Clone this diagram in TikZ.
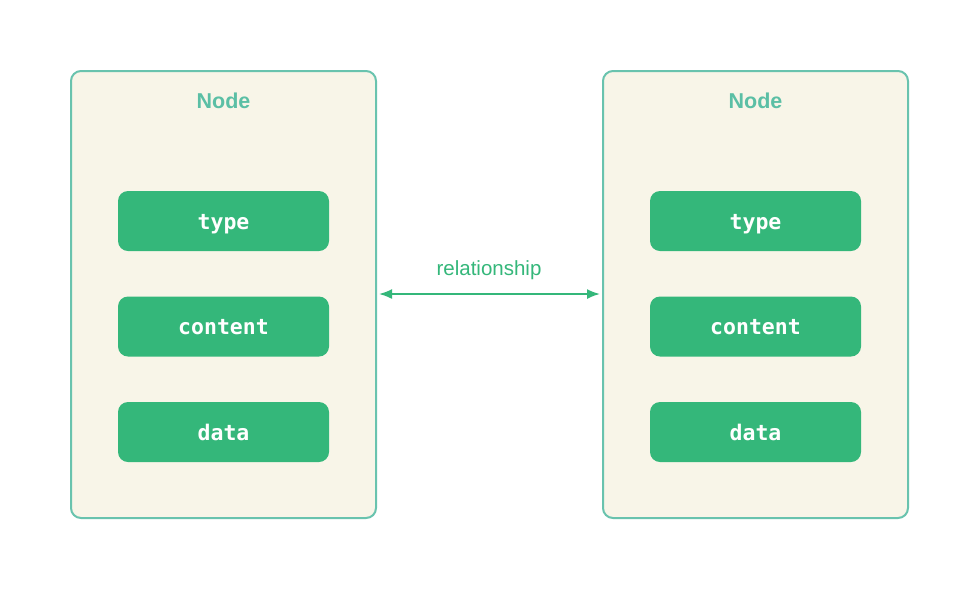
\documentclass[tikz,border=0pt]{standalone}
\usepackage{fontspec}
\setmainfont{Liberation Sans}
\newfontfamily\monob{DejaVu Sans Mono}
\usetikzlibrary{arrows.meta}
\definecolor{bordc}{HTML}{69C3AE}
\definecolor{titlec}{HTML}{5BBFA5}
\definecolor{cream}{HTML}{F8F5E8}
\definecolor{grn}{HTML}{34B77A}
\tikzset{
  outer/.style={draw=bordc, line width=2pt, fill=cream, rounded corners=10pt, minimum width=305pt, minimum height=447pt, inner sep=0pt},
  field/.style={fill=grn, rounded corners=10pt, minimum width=211pt, minimum height=60pt, inner sep=0pt, text=white, text height=16.5pt, text depth=0pt, font=\monob\bfseries\fontsize{21.5}{24}\selectfont},
  ttl/.style={text=titlec, font=\bfseries\fontsize{21.5}{24}\selectfont},
  rel/.style={grn, line width=1.8pt, {Latex[length=13pt,width=10pt]}-{Latex[length=13pt,width=10pt]}}
}
\begin{document}
\begin{tikzpicture}[x=1pt,y=-1pt]
\useasboundingbox (0,0) rectangle (979,590);
\fill[white] (0,0) rectangle (979,590);
\node[outer] (L) at (223.5,294.5) {};
\node[outer] (R) at (755.5,294.5) {};
\node[ttl] (Lt) at (223.5,101) {Node};
\node[ttl] (Rt) at (755.5,101) {Node};
\node[field] (Ltype) at (223.5,221) {type};
\node[field] (Lcont) at (223.5,326.5) {content};
\node[field] (Ldata) at (223.5,432) {data};
\node[field] (Rtype) at (755.5,221) {type};
\node[field] (Rcont) at (755.5,326.5) {content};
\node[field] (Rdata) at (755.5,432) {data};
\coordinate (a1) at (L.east |- 0,294);
\coordinate (a2) at (R.west |- 0,294);
\draw[rel] ([xshift=2pt]a1) -- ([xshift=-2pt]a2);
\node[text=grn, font=\fontsize{20.5}{24}\selectfont] (rl) at (489,270) {relationship};
\end{tikzpicture}
\end{document}
